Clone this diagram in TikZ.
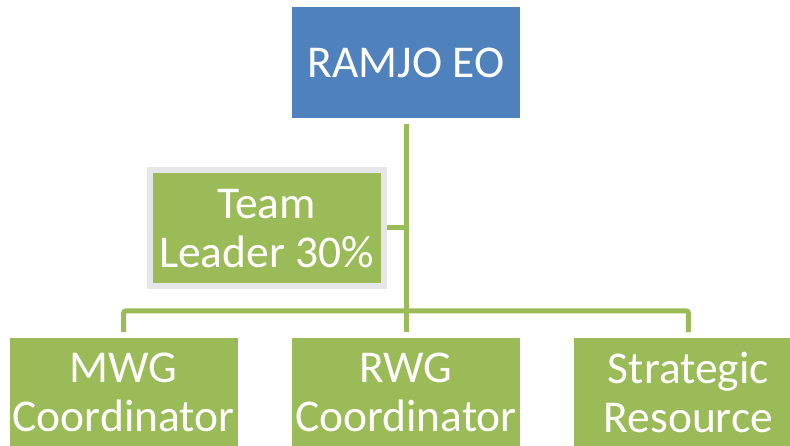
\documentclass[tikz,border=0pt]{standalone}
\usepackage{fontspec}
\setmainfont{Carlito}
\usepackage{xcolor}
\usetikzlibrary{positioning}
\definecolor{eoblue}{HTML}{4F81BD}
\definecolor{boxgreen}{HTML}{9BBB59}
\definecolor{rimgray}{HTML}{E6E6E6}

\begin{document}
\begin{tikzpicture}[x=1pt,y=1pt,node distance=54pt,
	box/.style={fill=boxgreen,text=white,align=center,minimum width=228pt,minimum height=108pt,inner sep=0pt,text depth=0pt,font=\fontsize{45.5}{49}\selectfont},
	link/.style={draw=boxgreen,line width=5pt,rounded corners=2pt}]
		\path[use as bounding box,clip] (0,0) rectangle (790,-446);
		\node[box,fill=eoblue,minimum height=111pt] (eo) at (406,-62.5) {RAMJO EO};
		\node[box,draw=rimgray,line width=6pt,minimum width=234pt,minimum height=116pt] (lead) at (266.5,-228) {Team\\Leader 30\%};
		\node[box] (rwg) [below=220pt of eo] {RWG\\Coordinator};
		\node[box] (mwg) [left=of rwg] {MWG\\Coordinator};
		\node[box] (strat) [right=of rwg] {Strategic\\Resource};
		\coordinate (bus) at (eo.south |- 0,-311);
	
		\draw[link,shorten <=6pt] (eo.south) -- (bus);
		\draw[link] (lead.east) -- (lead.east -| eo.south);
		\draw[link,shorten <=6pt,shorten >=6pt] (mwg.north) |- (bus) -| (strat.north);
		\draw[link,shorten >=6pt] (bus) -- (rwg.north);
	\end{tikzpicture}
\end{document}
